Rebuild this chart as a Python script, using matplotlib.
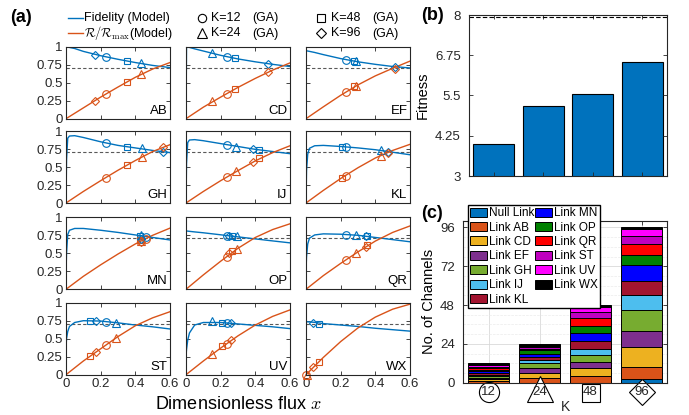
import matplotlib.pyplot as plt
from matplotlib.lines import Line2D
from matplotlib.patches import Patch
from matplotlib.ticker import MultipleLocator

plt.rcParams['font.family'] = ['Liberation Sans', 'DejaVu Sans']
plt.rcParams['mathtext.fontset'] = 'cm'

# ---------------- data ----------------
PANELS = ["AB", "CD", "EF", "GH", "IJ", "KL", "MN", "OP", "QR", "ST", "UV", "WX"]

# model fidelity, sampled at FID_X
FID_X = [0, 0.003, 0.01, 0.02, 0.05, 0.1, 0.2, 0.3, 0.4, 0.5, 0.6]
FID = [
    [1.0, 0.998, 0.995, 0.99, 0.975, 0.935, 0.875, 0.825, 0.78, 0.74, 0.71],
    [0.0, 1.0, 0.995, 0.99, 0.97, 0.94, 0.88, 0.83, 0.79, 0.755, 0.725],
    [0.945, 0.943, 0.94, 0.935, 0.92, 0.89, 0.835, 0.79, 0.755, 0.725, 0.705],
    [0.0, 0.6, 0.9, 0.93, 0.935, 0.91, 0.85, 0.80, 0.765, 0.73, 0.70],
    [0.0, 0.55, 0.84, 0.875, 0.88, 0.865, 0.825, 0.785, 0.745, 0.715, 0.685],
    [0.0, 0.45, 0.68, 0.76, 0.795, 0.80, 0.785, 0.765, 0.74, 0.705, 0.67],
    [0.22, 0.5, 0.76, 0.82, 0.845, 0.845, 0.82, 0.79, 0.755, 0.72, 0.685],
    [0.81, 0.81, 0.808, 0.805, 0.797, 0.785, 0.757, 0.728, 0.70, 0.672, 0.645],
    [0.26, 0.45, 0.63, 0.71, 0.755, 0.77, 0.765, 0.75, 0.72, 0.69, 0.66],
    [0.38, 0.5, 0.6, 0.67, 0.725, 0.75, 0.745, 0.72, 0.69, 0.665, 0.635],
    [0.26, 0.35, 0.48, 0.58, 0.69, 0.725, 0.725, 0.705, 0.685, 0.665, 0.64],
    [0.735, 0.735, 0.734, 0.733, 0.727, 0.71, 0.69, 0.67, 0.645, 0.625, 0.605],
]

# model R/Rmax, sampled at RATE_X
RATE_X = [0, 0.1, 0.2, 0.3, 0.4, 0.5, 0.6]
RATE = [
    [0, 0.15, 0.30, 0.44, 0.575, 0.69, 0.78],
    [0, 0.16, 0.30, 0.435, 0.56, 0.675, 0.775],
    [0, 0.165, 0.325, 0.47, 0.595, 0.70, 0.80],
    [0, 0.16, 0.31, 0.455, 0.59, 0.715, 0.81],
    [0, 0.16, 0.31, 0.45, 0.585, 0.70, 0.795],
    [0, 0.175, 0.34, 0.49, 0.625, 0.73, 0.815],
    [0, 0.18, 0.34, 0.49, 0.63, 0.75, 0.85],
    [0, 0.20, 0.39, 0.57, 0.72, 0.83, 0.91],
    [0, 0.19, 0.36, 0.52, 0.67, 0.79, 0.88],
    [0, 0.19, 0.36, 0.53, 0.68, 0.79, 0.875],
    [0, 0.19, 0.37, 0.54, 0.69, 0.81, 0.90],
    [0, 0.24, 0.46, 0.65, 0.80, 0.91, 0.98],
]

# GA results per panel, columns K = 12, 24, 48, 96
K_VALUES = [12, 24, 48, 96]
GA_X = [
    [0.229, 0.43, 0.35, 0.167],
    [0.235, 0.148, 0.283, 0.475],
    [0.23, 0.29, 0.278, 0.514],
    [0.23, 0.437, 0.35, 0.558],
    [0.235, 0.288, 0.423, 0.388],
    [0.228, 0.43, 0.208, 0.472],
    [0.46, 0.43, 0.425, 0.43],
    [0.235, 0.292, 0.265, 0.25],
    [0.23, 0.29, 0.35, 0.345],
    [0.23, 0.29, 0.138, 0.173],
    [0.235, 0.148, 0.21, 0.258],
    [0.0, 0.005, 0.073, 0.04],
]
GA_F = [
    [0.863, 0.776, 0.795, 0.89],
    [0.862, 0.908, 0.839, 0.76],
    [0.816, 0.797, 0.797, 0.724],
    [0.83, 0.76, 0.783, 0.708],
    [0.806, 0.784, 0.734, 0.748],
    [0.78, 0.734, 0.784, 0.712],
    [0.72, 0.75, 0.735, 0.70],
    [0.736, 0.74, 0.737, 0.735],
    [0.76, 0.755, 0.745, 0.74],
    [0.73, 0.72, 0.75, 0.75],
    [0.72, 0.743, 0.72, 0.716],
    [None, None, 0.71, 0.72],
]
GA_R = [
    [0.34, 0.616, 0.507, 0.25],
    [0.346, 0.24, 0.41, 0.645],
    [0.369, 0.46, 0.45, 0.69],
    [0.354, 0.64, 0.528, 0.783],
    [0.365, 0.446, 0.62, 0.568],
    [0.378, 0.658, 0.35, 0.70],
    [0.70, 0.67, 0.68, 0.66],
    [0.45, 0.556, 0.53, 0.51],
    [0.41, 0.51, 0.61, 0.59],
    [0.41, 0.51, 0.26, 0.31],
    [0.42, 0.284, 0.40, 0.477],
    [0.0, 0.0, 0.18, 0.11],
]
F_THRESHOLD = 0.71

FITNESS = [3.99, 5.18, 5.54, 6.54]
FITNESS_MAX = 7.94

LINKS = ["Null Link", "Link AB", "Link CD", "Link EF", "Link GH", "Link IJ", "Link KL",
         "Link MN", "Link OP", "Link QR", "Link ST", "Link UV", "Link WX"]
CHANNELS_K12 = [0, 1, 1, 1, 1, 1, 1, 1, 1, 1, 1, 1, 1]
CHANNELS_K24 = [0, 3, 3, 3, 3, 2, 2, 2, 2, 1, 1, 1, 1]
CHANNELS_K48 = [0, 4, 5, 4, 4, 4, 5, 5, 4, 5, 4, 3, 1]
CHANNELS_K96 = [2, 8, 12, 10, 13, 9, 9, 10, 6, 7, 5, 4, 1]

# ---------------- style ----------------
BLUE = "#0072BD"
ORANGE = "#D95319"
LINK_COLORS = ["#0072BD", "#D95319", "#EDB120", "#7E2F8E", "#77AC30", "#4DBEEE",
               "#A2142F", "#0000FF", "#008000", "#FF0000", "#BF00BF", "#FF00FF", "#000000"]
MARKERS = ["o", "^", "s", "D"]
MSIZES = [5.5, 6, 5, 4.5]
AX_COLOR = "#262626"

W, H = 689, 415


def px_rect(x0, y0, x1, y1):
    return [x0 / W, 1 - y1 / H, (x1 - x0) / W, (y1 - y0) / H]


def style_axes(ax, pad=2.5):
    for s in ax.spines.values():
        s.set_color(AX_COLOR)
        s.set_linewidth(0.8)
    ax.tick_params(direction="in", top=True, right=True, length=3, width=0.6,
                   color=AX_COLOR, labelcolor=AX_COLOR, pad=pad)


fig = plt.figure(figsize=(W / 100, H / 100), dpi=100)

# ---------------- (a) ----------------
row_tops = [46.7, 131, 217.3, 302.7]
for i, name in enumerate(PANELS):
    r, c = divmod(i, 3)
    x0 = 66 + 120 * c
    y0 = row_tops[r]
    ax = fig.add_axes(px_rect(x0, y0, x0 + 104, y0 + 72))
    ax.axhline(F_THRESHOLD, color="0.35", ls=(0, (3, 2)), lw=0.8)
    ax.plot(FID_X, FID[i], color=BLUE, lw=1)
    ax.plot(RATE_X, RATE[i], color=ORANGE, lw=1)
    for k in range(4):
        if GA_F[i][k] is not None:
            ax.plot(GA_X[i][k], GA_F[i][k], marker=MARKERS[k], ms=MSIZES[k], mfc="none",
                    mec=BLUE, mew=0.8, ls="none", clip_on=False)
        ax.plot(GA_X[i][k], GA_R[i][k], marker=MARKERS[k], ms=MSIZES[k], mfc="none",
                mec=ORANGE, mew=0.8, ls="none", clip_on=False)
    ax.set_xlim(0, 0.6)
    ax.set_ylim(0, 1)
    ax.set_xticks([0, 0.2, 0.4, 0.6])
    ax.set_yticks([0, 0.25, 0.5, 0.75, 1])
    style_axes(ax)
    if r == 3:
        ax.set_xticklabels(["0", "0.2", "0.4", "0.6"], fontsize=9.5)
    else:
        ax.set_xticklabels([])
    if c == 0:
        ax.set_yticklabels(["0", "0.25", "0.5", "0.75", "1"], fontsize=9.5)
    else:
        ax.set_yticklabels([])
    ax.text(0.975, 0.03, name, transform=ax.transAxes, ha="right", va="bottom",
            fontsize=9.5, color="k")

fig.text(238 / W, 1 - 404 / H, "Dimensionless flux $x$", ha="center", va="center",
         fontsize=13)

# top legend for (a)
def fig_line(x0, x1, y, **kw):
    fig.add_artist(Line2D([x0 / W, x1 / W], [1 - y / H, 1 - y / H],
                          transform=fig.transFigure, **kw))

fig_line(68, 83, 18.3, color=BLUE, lw=1)
fig_line(68, 83, 33.5, color=ORANGE, lw=1)
fig.text(84 / W, 1 - 18.3 / H, "Fidelity (Model)", va="center", fontsize=9)
fig.text(84 / W, 1 - 33.5 / H, r"$\mathcal{R}/\mathcal{R}_{\max}$(Model)", va="center",
         fontsize=9)
leg_pos = [(201.5, 18.3), (201.5, 33.5), (321, 18.3), (321, 33.5)]
for k, (lx, ly) in enumerate(leg_pos):
    fig.add_artist(Line2D([lx / W], [1 - ly / H], marker=MARKERS[k], ms=MSIZES[k] + 0.5,
                          mfc="none", mec="k", mew=0.8, ls="none",
                          transform=fig.transFigure))
    fig.text((lx + 10) / W, 1 - ly / H, f"K={K_VALUES[k]}", va="center", fontsize=9)
    fig.text((lx + 51) / W, 1 - ly / H, "(GA)", va="center", fontsize=9)

fig.text(10 / W, 1 - 17 / H, "(a)", fontsize=13, weight="bold", va="center")
fig.text(421 / W, 1 - 15 / H, "(b)", fontsize=13, weight="bold", va="center")
fig.text(421 / W, 1 - 213 / H, "(c)", fontsize=13, weight="bold", va="center")

# ---------------- (b) ----------------
axb = fig.add_axes(px_rect(469, 15, 667, 176))
axb.bar(range(1, 5), FITNESS, width=0.83, color=BLUE, edgecolor="k", lw=0.8)
axb.axhline(FITNESS_MAX, color="k", ls=(0, (4, 2)), lw=0.8)
axb.set_xlim(0.5, 4.5)
axb.set_ylim(3, 8)
axb.set_xticks([1, 2, 3, 4])
axb.set_xticklabels([])
axb.set_yticks([3, 4.25, 5.5, 6.75, 8])
axb.set_yticklabels(["3", "4.25", "5.5", "6.75", "8"], fontsize=9.5)
style_axes(axb, pad=6)
axb.set_ylabel("Fitness", fontsize=10.5, labelpad=4)

# ---------------- (c) ----------------
axc = fig.add_axes(px_rect(463, 221, 667, 382.7))
axc.set_axisbelow(True)
stacks = [CHANNELS_K12, CHANNELS_K24, CHANNELS_K48, CHANNELS_K96]
handles = []
for j, link in enumerate(LINKS):
    heights = [s[j] for s in stacks]
    bottoms = [sum(s[:j]) for s in stacks]
    axc.bar(range(1, 5), heights, bottom=bottoms, width=0.82, color=LINK_COLORS[j],
            edgecolor="k", lw=0.7)
    handles.append(Patch(facecolor=LINK_COLORS[j], edgecolor="k", lw=0.7, label=link))
axc.set_xlim(0.5, 4.5)
axc.set_ylim(0, 100)
axc.set_yticks([0, 24, 48, 72, 96])
axc.yaxis.set_minor_locator(MultipleLocator(6))
axc.set_xticks([1, 2, 3, 4])
axc.set_xticklabels([])
axc.set_yticklabels(["0", "24", "48", "72", "96"], fontsize=9.5)
axc.grid(True, which="major", color="0.85", lw=0.6)
axc.grid(True, which="minor", axis="y", color="0.92", lw=0.5, ls="--")
style_axes(axc, pad=6)
axc.tick_params(which="minor", length=0)
axc.set_ylabel("No. of Channels", fontsize=10.5, labelpad=3)

# K tick labels drawn as GA marker shapes
shape_y = [-0.056, -0.04, -0.064, -0.058]
shape_ms = [14.5, 19, 12.5, 13]
trans = axc.get_xaxis_transform()
for k in range(4):
    axc.plot(k + 1, shape_y[k], marker=MARKERS[k], ms=shape_ms[k], mfc="white",
             mec="k", mew=0.8, ls="none", clip_on=False, transform=trans)
    axc.text(k + 1, -0.06, str(K_VALUES[k]), transform=trans, ha="center", va="center",
             fontsize=9.5, color=AX_COLOR)
axc.text(2.5, -0.148, "K", transform=trans, ha="center", va="center", fontsize=10,
         color=AX_COLOR)

fig.legend(handles=handles, ncol=2, loc="upper left",
           bbox_to_anchor=(468 / W, 1 - 205 / H), bbox_transform=fig.transFigure,
           fontsize=8.5, frameon=True, fancybox=False, edgecolor="k", framealpha=1,
           handlelength=1.4, handleheight=0.8, handletextpad=0.15, columnspacing=0.1,
           labelspacing=0.2, borderpad=0.2, borderaxespad=0)

fig.savefig("out.png", dpi=100)
